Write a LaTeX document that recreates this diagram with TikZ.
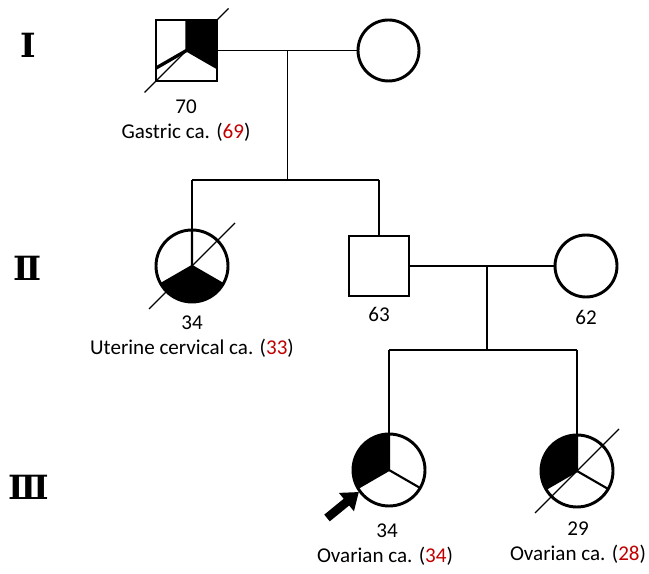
\documentclass[tikz,border=0pt]{standalone}
\usepackage{fontspec}
\setmainfont{Carlito}
\newfontfamily\romanfont{DejaVu Serif}
\usetikzlibrary{calc,arrows.meta}
\definecolor{onsetred}{HTML}{C00000}
\newcommand{\onset}[1]{\textcolor{onsetred}{#1}}
\tikzset{
  person/.style={draw, line width=2.2pt, inner sep=0pt, outer sep=0pt, fill=white},
  male/.style={person, rectangle, minimum size=#1},
  female/.style={person, circle, minimum size=#1},
  link/.style={line width=1.1pt},
  divider/.style={line width=1.6pt},
  deceased/.style={line width=1pt},
  age/.style={font=\fontsize{15.8}{18}\selectfont, inner sep=0pt},
  gen/.style={font=\romanfont\bfseries\fontsize{25}{28}\selectfont, inner sep=0pt}
}
\begin{document}
\begin{tikzpicture}[x=0.75pt,y=0.75pt]
\useasboundingbox (0,0) rectangle (649,574);

% generations
\node[gen] (genI) at (28,529) {Ⅰ};
\node[gen] (genII) at (28,306) {Ⅱ};
\node[gen] (genIII) at (29,87) {Ⅲ};

% generation I
\node[male=45.75pt] (I1) at (186.5,523.5) {};
\node[female=45.75pt] (I2) at (388.5,523.5) {};
\fill (I1.north) -- (I1.north east) -- ($(I1.center)+(30.5,-17.6)$) -- (I1.center) -- cycle;
\draw[divider] (I1.north) -- (I1.center) -- ($(I1.center)+(30.5,-17.6)$);
\draw[line width=2.5pt] (I1.center) -- ($(I1.center)+(-30.5,-17.6)$);
\draw[deceased] ($(I1.center)+(-42,-42)$) -- ($(I1.center)+(42,42)$);
\draw[link] (I1) -- (I2);
\coordinate (m1) at ($(I1.east)!0.5!(I2.west)$);
\coordinate (sib2) at (m1 |- 0,394);
\draw[link] (m1) -- (sib2);

\node[age] (I1age) at (186,467) {70};
\node[age] (I1dx) at (186,442) {Gastric ca. (\onset{69})};

% generation II
\node[female=54pt] (II1) at (192,308) {};
\node[male=45pt] (II2) at (379,308) {};
\node[female=46.5pt] (II3) at (586,308) {};
\fill (II1.center) -- (II1.210) arc[start angle=210, end angle=330, radius=27pt] -- cycle;
\draw[divider] (II1.north) -- (II1.center) -- (II1.330) (II1.center) -- (II1.210);
\draw[deceased] ($(II1.center)+(-43,-43)$) -- ($(II1.center)+(43,43)$);
\draw[link] (II1 |- sib2) -- (II2 |- sib2);
\draw[link] (II1 |- sib2) -- (II1);
\draw[link] (II2 |- sib2) -- (II2);
\draw[link] (II2) -- (II3);
\coordinate (m2) at (487,308);
\coordinate (sib3) at (487,224);
\draw[link] (m2) -- (sib3);

\node[age] (II1age) at (192,251) {34};
\node[age] (II1dx) at (192,226) {Uterine cervical ca. (\onset{33})};
\node[age] (II2age) at (379,260) {63};
\node[age] (II3age) at (586,257) {62};

% generation III
\node[female=54pt] (III1) at (389,104) {};
\node[female=54pt] (III2) at (577,103) {};
\fill (III1.center) -- (III1.north) arc[start angle=90, end angle=210, radius=27pt] -- cycle;
\draw[divider] (III1.north) -- (III1.center) -- (III1.330) (III1.center) -- (III1.210);
\fill (III2.center) -- (III2.north) arc[start angle=90, end angle=210, radius=27pt] -- cycle;
\draw[divider] (III2.north) -- (III2.center) -- (III2.330) (III2.center) -- (III2.210);
\draw[deceased] ($(III2.center)+(-42,-42)$) -- ($(III2.center)+(42,42)$);
\draw[link] (III1 |- sib3) -- (III2 |- sib3);
\draw[link] (III1 |- sib3) -- (III1);
\draw[link] (III2 |- sib3) -- (III2);

\coordinate (pointer) at (327,56);
\draw[line width=6.5pt, -{Triangle[length=12pt,width=17pt]}, shorten >=1pt] (pointer) -- (III1.216);

\node[age] (III1age) at (387,43) {34};
\node[age] (III1dx) at (385,18) {Ovarian ca. (\onset{34})};
\node[age] (III2age) at (578,45) {29};
\node[age] (III2dx) at (578,20) {Ovarian ca. (\onset{28})};
\end{tikzpicture}
\end{document}
